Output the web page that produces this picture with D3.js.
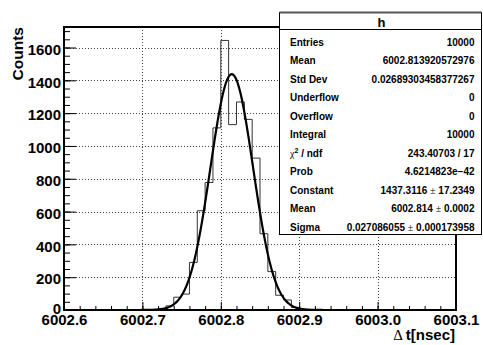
<!DOCTYPE html>
<html>
<head>
<meta charset="utf-8">
<script src="https://cdn.jsdelivr.net/npm/d3@7"></script>
<style>
  body { margin: 0; background: #fff; }
  svg { display: block; font-family: "Liberation Sans", Arial, sans-serif; font-weight: bold; }
</style>
</head>
<body>
<svg width="483" height="345"></svg>
<script>
// histogram bins (lower edge, width 0.01) and their counts
const binLow = [6002.71, 6002.72, 6002.73, 6002.74, 6002.75, 6002.76, 6002.77, 6002.78, 6002.79, 6002.80,
                6002.81, 6002.82, 6002.83, 6002.84, 6002.85, 6002.86, 6002.87, 6002.88, 6002.89, 6002.90];
const counts = [3, 8, 25, 78, 97, 290, 605, 777, 1110, 1643,
                1130, 1268, 1162, 926, 465, 234, 90, 61, 15, 4];
const binWidth = 0.01;

// gaussian fit parameters (from the stats box)
const fitConstant = 1437.3116;
const fitMean = 6002.814;
const fitSigma = 0.027086055;

const xTicks = [6002.6, 6002.7, 6002.8, 6002.9, 6003.0, 6003.1];
const yTicks = [0, 200, 400, 600, 800, 1000, 1200, 1400, 1600];

const statsLabels = ["Entries", "Mean", "Std Dev", "Underflow", "Overflow", "Integral", "χ² / ndf", "Prob", "Constant", "Mean", "Sigma"];
const statsValues = ["10000", "6002.813920572976", "0.02689303458377267", "0", "0", "10000", "243.40703 / 17", "4.6214823e−42",
                     "1437.3116 ± 17.2349", "6002.814 ± 0.0002", "0.027086055 ± 0.000173958"];

const width = 483, height = 345;
const margin = { top: 27, right: 27, bottom: 35, left: 64 };

const svg = d3.select("svg");

const x = d3.scaleLinear()
    .domain([6002.6, 6003.1])
    .range([margin.left, width - margin.right]);

const y = d3.scaleLinear()
    .domain([0, 1725])
    .range([height - margin.bottom, margin.top]);

const x0 = margin.left, x1 = width - margin.right;
const y0 = height - margin.bottom, y1 = margin.top;

svg.append("defs").append("clipPath").attr("id", "plot")
  .append("rect").attr("x", x0).attr("y", y1).attr("width", x1 - x0).attr("height", y0 - y1);

// grid
const grid = svg.append("g").attr("stroke", "#444").attr("stroke-width", 1).attr("stroke-dasharray", "1,2");
grid.selectAll(".gx").data(xTicks.slice(1, -1)).enter().append("line")
    .attr("x1", d => Math.round(x(d)) + 0.5).attr("x2", d => Math.round(x(d)) + 0.5)
    .attr("y1", y1).attr("y2", y0);
grid.selectAll(".gy").data(yTicks.slice(1)).enter().append("line")
    .attr("x1", x0).attr("x2", x1)
    .attr("y1", d => Math.round(y(d)) + 0.5).attr("y2", d => Math.round(y(d)) + 0.5);

// histogram outline
const pts = [[6002.6, 0]];
binLow.forEach((b, i) => { pts.push([b, counts[i]]); pts.push([b + binWidth, counts[i]]); });
pts.push([binLow[binLow.length - 1] + binWidth, 0], [6003.1, 0]);
const stepPts = [];
for (let i = 0; i < pts.length; i++) {
  if (i > 0) stepPts.push([pts[i][0], pts[i - 1][1]]);
  stepPts.push(pts[i]);
}
svg.append("path")
    .attr("clip-path", "url(#plot)")
    .attr("d", d3.line().x(d => x(d[0])).y(d => y(d[1]))(stepPts))
    .attr("fill", "none")
    .attr("stroke", "#333")
    .attr("stroke-width", 1);

// fit curve
const fx = d3.range(6002.6, 6003.1 + 1e-9, 0.001);
svg.append("path")
    .attr("clip-path", "url(#plot)")
    .attr("d", d3.line()
        .x(d => x(d))
        .y(d => y(fitConstant * Math.exp(-0.5 * Math.pow((d - fitMean) / fitSigma, 2))))
        .curve(d3.curveMonotoneX)(fx))
    .attr("fill", "none")
    .attr("stroke", "#000")
    .attr("stroke-width", 2.2);

// axes
const yMinor = svg.append("g")
    .attr("transform", `translate(${x0},0)`)
    .call(d3.axisLeft(y).tickValues(d3.range(0, 1701, 50)).tickSize(-6).tickFormat(""));
const yAxis = svg.append("g")
    .attr("transform", `translate(${x0},0)`)
    .call(d3.axisLeft(y).tickValues(yTicks).tickSize(-12).tickPadding(3).tickFormat(d3.format("d")));
const xMinor = svg.append("g")
    .attr("transform", `translate(0,${y0})`)
    .call(d3.axisBottom(x).tickValues(d3.range(0, 26).map(i => 6002.6 + i * 0.02)).tickSize(-4).tickFormat(""));
const xAxis = svg.append("g")
    .attr("transform", `translate(0,${y0})`)
    .call(d3.axisBottom(x).tickValues(xTicks).tickSize(-8).tickPadding(5).tickFormat(d3.format(".1f")));

[yMinor, yAxis, xMinor, xAxis].forEach(g => {
  g.select(".domain").remove();
  g.selectAll("line").attr("stroke", "#000").attr("stroke-width", 1);
  g.selectAll("text").attr("font-size", 15).attr("font-family", "Liberation Sans, Arial, sans-serif")
    .attr("font-weight", "bold").attr("fill", "#000");
});
yAxis.selectAll("text").attr("dy", d => d === 0 ? "0.2em" : "0.45em");
xAxis.selectAll("text").attr("dy", "0.68em");

// frame
svg.append("rect")
    .attr("x", x0).attr("y", y1).attr("width", x1 - x0).attr("height", y0 - y1)
    .attr("fill", "none").attr("stroke", "#000").attr("stroke-width", 2);

// axis titles
svg.append("text")
    .attr("transform", `translate(22.5,${y1}) rotate(-90)`)
    .attr("text-anchor", "end")
    .attr("font-size", 15.5)
    .text("Counts");

const xt = svg.append("text")
    .attr("x", 455).attr("y", 340)
    .attr("text-anchor", "end")
    .attr("font-size", 15);
xt.append("tspan").attr("font-family", "Liberation Serif, serif").attr("font-weight", "normal").text("Δ ");
xt.append("tspan").text("t[nsec]");

// stats box
const bx = 279.5, by = 12.5, bw = 202, bh = 222;
const box = svg.append("g");
box.append("rect").attr("x", bx).attr("y", by).attr("width", bw).attr("height", bh)
    .attr("fill", "#fff").attr("stroke", "#000").attr("stroke-width", 1);
box.append("line").attr("x1", bx).attr("x2", bx + bw).attr("y1", by).attr("y2", by)
    .attr("stroke", "#555").attr("stroke-width", 2);
box.append("line").attr("x1", bx).attr("x2", bx + bw).attr("y1", 29.5).attr("y2", 29.5)
    .attr("stroke", "#000").attr("stroke-width", 1);
box.append("text").attr("x", 381.5).attr("y", 27).attr("text-anchor", "middle")
    .attr("font-size", 13).text("h");

const rowY = i => 45.5 + i * 18.5;
statsLabels.forEach((lab, i) => {
  const t = box.append("text").attr("x", 290).attr("y", rowY(i)).attr("font-size", 10);
  if (lab.startsWith("χ")) {
    t.append("tspan").attr("font-family", "Liberation Serif, serif").attr("font-weight", "normal").text("χ");
    t.append("tspan").attr("font-size", 7).attr("dy", -4).text("2");
    t.append("tspan").attr("dy", 4).text(" / ndf");
  } else {
    t.text(lab);
  }
});
statsValues.forEach((val, i) => {
  const t = box.append("text").attr("x", 474.5).attr("y", rowY(i)).attr("text-anchor", "end").attr("font-size", 10);
  const parts = val.split(" ± ");
  if (parts.length === 2) {
    t.append("tspan").text(parts[0] + " ");
    t.append("tspan").attr("font-weight", "normal").attr("font-family", "Liberation Serif, serif").text("±");
    t.append("tspan").text(" " + parts[1]);
  } else {
    t.text(val);
  }
});
</script>
</body>
</html>
